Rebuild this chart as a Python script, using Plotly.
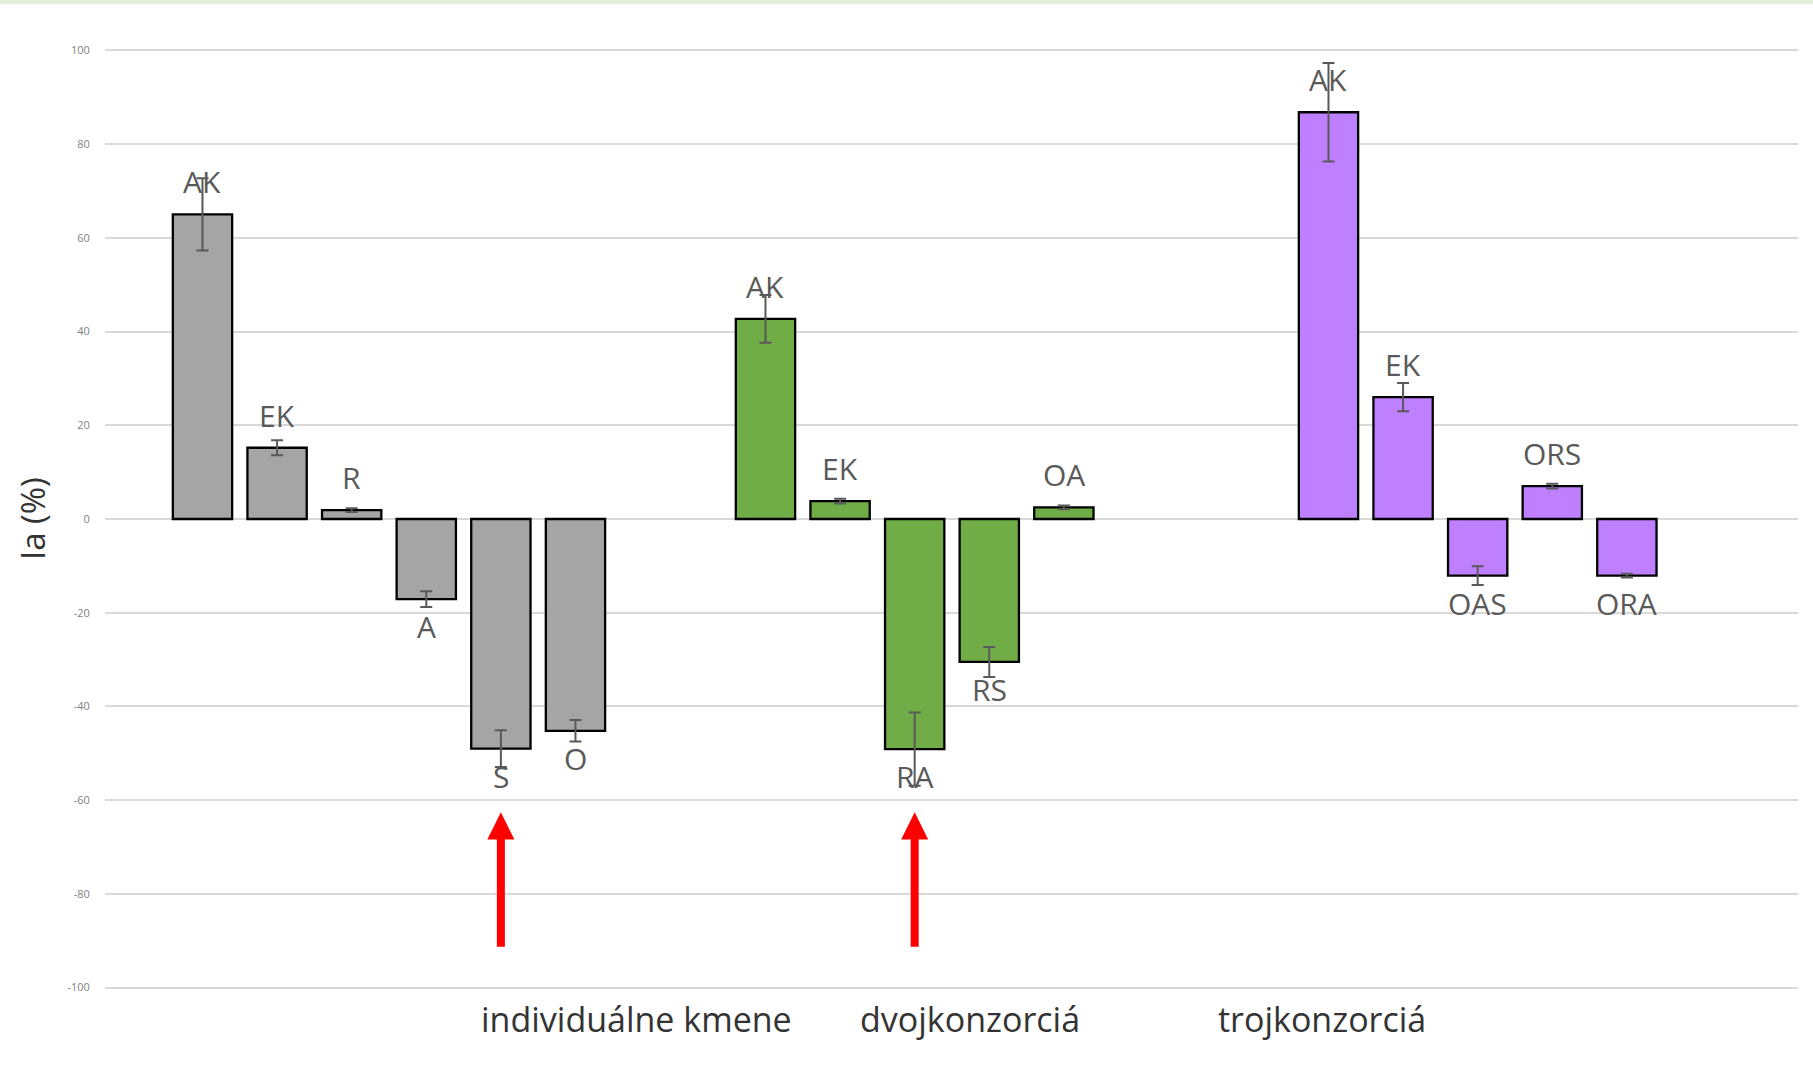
import plotly.graph_objects as go

# ---- data ----
groups = ["individuálne kmene", "dvojkonzorciá", "trojkonzorciá"]

labels_ind = ["AK", "EK", "R", "A", "S", "O"]
values_ind = [65.0, 15.2, 1.9, -17.1, -49.0, -45.2]
errors_ind = [7.7, 1.6, 0.4, 1.7, 3.9, 2.3]

labels_dvoj = ["AK", "EK", "RA", "RS", "OA"]
values_dvoj = [42.7, 3.8, -49.1, -30.5, 2.5]
errors_dvoj = [5.1, 0.5, 7.8, 3.2, 0.4]

labels_troj = ["AK", "EK", "OAS", "ORS", "ORA"]
values_troj = [86.8, 26.0, -12.1, 7.0, -12.1]
errors_troj = [10.5, 3.0, 2.0, 0.5, 0.4]

y_ticks = [100, 80, 60, 40, 20, 0, -20, -40, -60, -80, -100]

# ---- styling ----
colors = ["#a5a5a5", "#70ad47", "#bf80ff"]
label_color = "#595959"
n_slots = 6
bargap = 0.205
bargroupgap = 0.205
x_range = [-0.5044, 2.5027]

all_labels = [labels_ind, labels_dvoj, labels_troj]
all_values = [values_ind, values_dvoj, values_troj]
all_errors = [errors_ind, errors_dvoj, errors_troj]


def slot_center(group_idx, slot_idx):
    group_w = 1 - bargap
    slot_w = group_w / n_slots
    return group_idx - group_w / 2 + (slot_idx + 0.5) * slot_w


fig = go.Figure()
annotations = []
for k in range(n_slots):
    ys, errs = [], []
    for g in range(3):
        if k < len(all_values[g]):
            ys.append(all_values[g][k])
            errs.append(all_errors[g][k])
            v = all_values[g][k]
            annotations.append(dict(
                text=all_labels[g][k], xref="x", yref="y",
                x=slot_center(g, k), y=v, showarrow=False,
                xanchor="center", yanchor="middle",
                yshift=32.5 if v >= 0 else -27.5,
                font=dict(family="Open Sans", size=30, color=label_color)))
        else:
            ys.append(None)
            errs.append(None)
    fig.add_trace(go.Bar(
        x=list(range(len(groups))),
        y=ys,
        marker=dict(color=colors, line=dict(color="#000000", width=2.3)),
        error_y=dict(type="data", array=errs, visible=True,
                     color="#595959", thickness=2, width=6),
        showlegend=False,
        hoverinfo="y",
    ))

arrow_targets = [(0, 4), (1, 2)]  # S in individual strains, RA in dual consortia
shapes = []
head_half_w = 0.024
for g, s in arrow_targets:
    xc = slot_center(g, s)
    shapes.append(dict(type="line", xref="x", yref="y", x0=xc, x1=xc,
                       y0=-91.3, y1=-67.5, line=dict(color="#ff0000", width=8)))
    shapes.append(dict(type="path", xref="x", yref="y",
                       path=f"M {xc - head_half_w} -68.4 L {xc + head_half_w} -68.4 L {xc} -62.6 Z",
                       fillcolor="#ff0000", line=dict(color="#ff0000", width=0)))

# light green strip at very top
shapes.append(dict(type="rect", xref="paper", yref="paper",
                   x0=-0.07, x1=1.02, y0=1.0475, y1=1.06,
                   fillcolor="#e2efda", line=dict(width=0), layer="below"))

annotations.append(dict(text="Ia (%)", xref="paper", yref="paper", x=-0.0431, y=0.5,
                        textangle=-90, showarrow=False, xanchor="center", yanchor="middle",
                        font=dict(family="Open Sans", size=33, color="#333333")))
group_label_x = [0.439, 1.032, 1.657]
for name, gx in zip(groups, group_label_x):
    annotations.append(dict(text=name, xref="x", yref="paper", x=gx, y=-0.032,
                            showarrow=False, xanchor="center", yanchor="middle",
                            font=dict(family="Open Sans", size=34, color="#333333")))

fig.update_layout(
    width=1813, height=1081,
    margin=dict(l=105, r=15, t=49, b=92, pad=0),
    paper_bgcolor="white", plot_bgcolor="white",
    barmode="group", bargap=bargap, bargroupgap=bargroupgap,
    font=dict(family="Open Sans"),
    xaxis=dict(range=x_range, showticklabels=False, showgrid=False,
               zeroline=False, showline=False, ticks=""),
    yaxis=dict(range=[-100.3, 100.3], tickvals=y_ticks,
               ticktext=[str(v) for v in y_ticks],
               showgrid=True, gridcolor="#d9d9d9", gridwidth=2,
               zeroline=False, showline=False,
               ticks="outside", ticklen=12, tickcolor="rgba(0,0,0,0)",
               tickfont=dict(family="Open Sans", size=11, color="#7f7f7f")),
    shapes=shapes,
    annotations=annotations,
)

fig.write_html("out.html")
